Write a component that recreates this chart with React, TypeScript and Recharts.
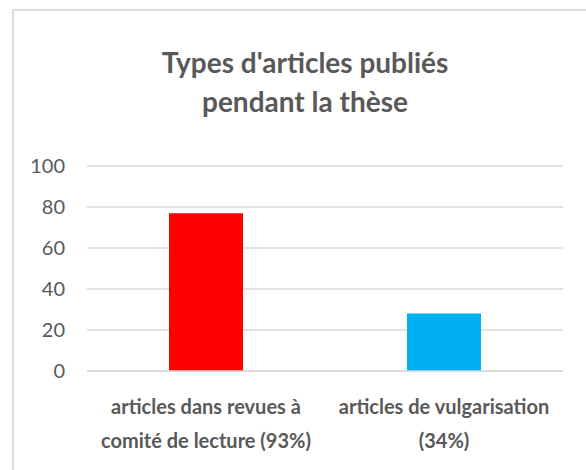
import React from "react";
import { BarChart, Bar, XAxis, YAxis, CartesianGrid, Cell } from "recharts";

const categories = [
  ["articles dans revues à", "comité de lecture (93%)"],
  ["articles de vulgarisation", "(34%)"],
];
const values = [77, 28];
const colors = ["#ff0000", "#00b0f0"];
const yTicks = [0, 20, 40, 60, 80, 100];
const titleLines = ["Types d'articles publiés", "pendant la thèse"];

const data = categories.map((c, i) => ({ name: String(i), value: values[i] }));

const FONT = "Lato, 'Open Sans', sans-serif";
const TEXT = "#595959";

const XTick = (props: any) => {
  const { x, y, payload } = props;
  const lines = categories[Number(payload.value)] || [];
  return (
    <g>
      {lines.map((l, i) => (
        <text
          key={i}
          x={x}
          y={y + 35 + i * 34}
          textAnchor="middle"
          fill={TEXT}
          fontFamily={FONT}
          fontSize={20}
          fontWeight={700}
        >
          {l}
        </text>
      ))}
    </g>
  );
};

const YTick = (props: any) => {
  const { x, y, payload } = props;
  return (
    <text x={x} y={y + 7} textAnchor="end" fill={TEXT} fontFamily={FONT} fontSize={20}>
      {payload.value}
    </text>
  );
};

export default function App() {
  return (
    <div style={{ position: "absolute", left: 0, top: 0, width: 586, height: 470 }}>
      <div
        style={{
          position: "absolute",
          left: 12,
          top: 9,
          width: 574,
          height: 461,
          boxSizing: "border-box",
          borderTop: "2px solid #dcdcdc",
          borderLeft: "2px solid #dcdcdc",
        }}
      />
      <svg
        width={586}
        height={470}
        style={{ position: "absolute", left: 0, top: 0, pointerEvents: "none" }}
      >
        {titleLines.map((t, i) => (
          <text
            key={i}
            x={305}
            y={73 + i * 39}
            textAnchor="middle"
            fill={TEXT}
            fontFamily={FONT}
            fontSize={28}
            fontWeight={700}
          >
            {t}
          </text>
        ))}
      </svg>
      <div style={{ position: "absolute", left: 0, top: 0 }}>
        <BarChart
          width={586}
          height={470}
          data={data}
          margin={{ top: 166, right: 23, bottom: 39, left: 0 }}
          barCategoryGap={0}
        >
          <CartesianGrid vertical={false} stroke="#d9d9d9" strokeWidth={1.5} />
          <XAxis
            dataKey="name"
            tick={<XTick />}
            tickLine={false}
            axisLine={{ stroke: "#d9d9d9", strokeWidth: 1.5 }}
            height={60}
            interval={0}
          />
          <YAxis
            domain={[0, 100]}
            ticks={yTicks}
            tick={<YTick />}
            tickLine={false}
            axisLine={false}
            tickSize={0}
            tickMargin={22}
            width={87}
          />
          <Bar dataKey="value" barSize={74} isAnimationActive={false}>
            {data.map((d, i) => (
              <Cell key={i} fill={colors[i]} />
            ))}
          </Bar>
        </BarChart>
      </div>
    </div>
  );
}
